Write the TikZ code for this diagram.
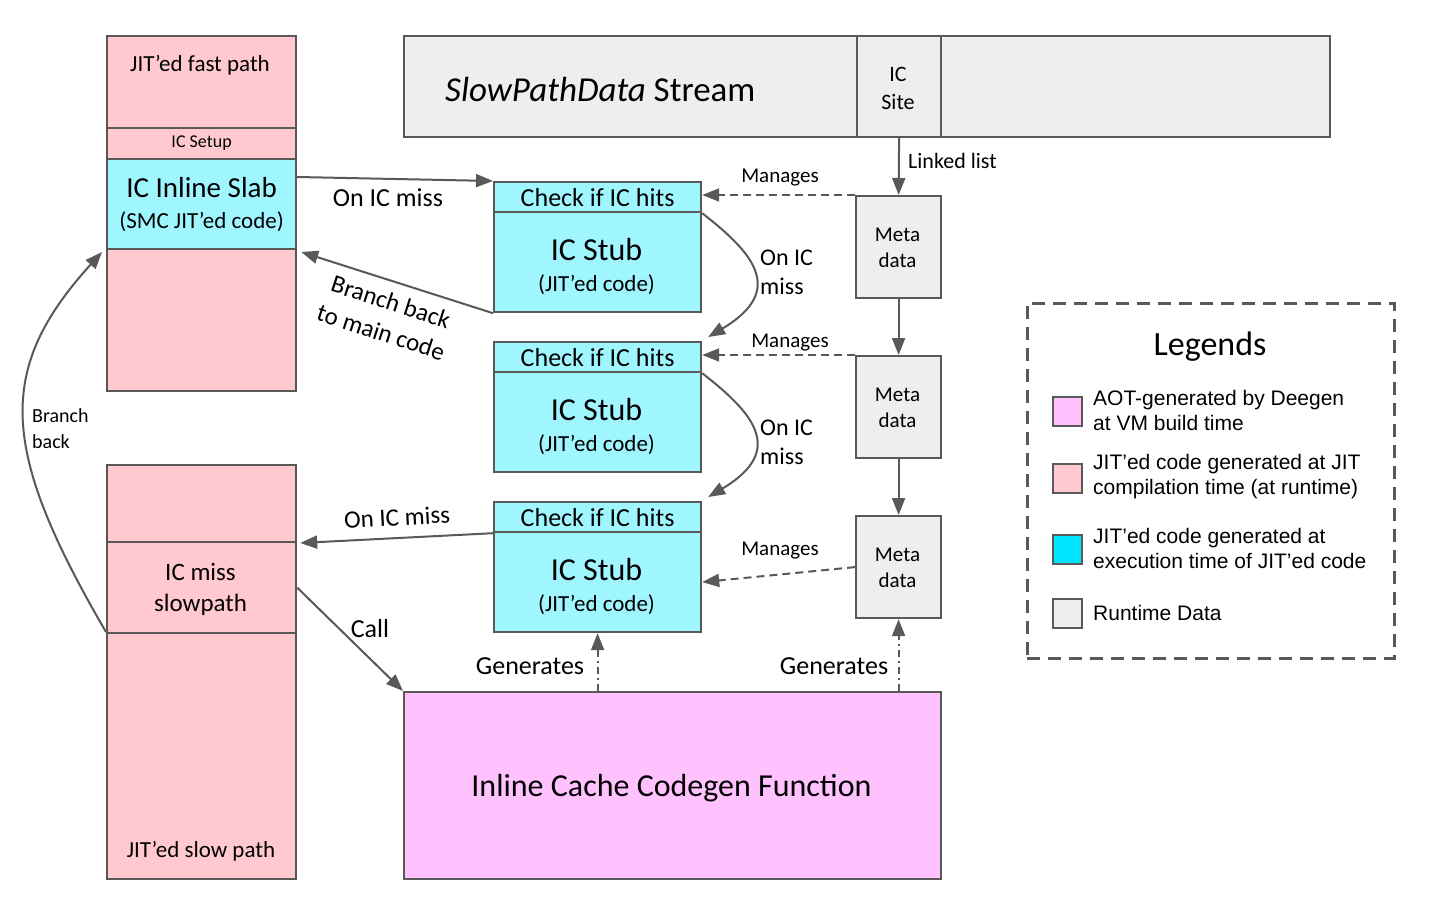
\documentclass[tikz,border=0pt]{standalone}
\usepackage{fontspec}
\setmainfont{Carlito}
\newfontfamily\arialf{Liberation Sans}
\usetikzlibrary{arrows.meta,calc}
\definecolor{lc}{HTML}{595959}
\definecolor{pinkc}{HTML}{FFC9CF}
\definecolor{cyanc}{HTML}{A0F6FF}
\definecolor{grayc}{HTML}{EEEEEE}
\definecolor{magc}{HTML}{FFC2FF}
\definecolor{cyanl}{HTML}{00E5FF}
\newcommand\myfs[2]{\fontsize{#1}{#2}\selectfont}
\begin{document}
\begin{tikzpicture}[x=1pt,y=-1pt,
  box/.style={draw=lc, line width=2.2pt, inner sep=0pt, anchor=north west, align=center},
  arr/.style={draw=lc, line width=2pt, -{Triangle[length=17pt,width=13pt]}},
  darr/.style={arr, dash pattern=on 8pt off 5pt},
  ddarr/.style={arr, dash pattern=on 7pt off 4pt on 2pt off 4pt},
  lab/.style={inner sep=0pt}
]
\useasboundingbox (0,0) rectangle (1435,909);
\fill[white] (0,0) rectangle (1435,909);

% left top column
\node[box, fill=pinkc, minimum width=189pt, minimum height=92pt] (fast) at (106,35) {};
\node[lab, font=\myfs{23}{28}] (fasttxt) at (200,65) {JIT’ed fast path};
\node[box, fill=pinkc, minimum width=189pt, minimum height=31pt, font=\myfs{18}{22}] (setup) at (106,127) {IC Setup};
\node[box, fill=cyanc, minimum width=189pt, minimum height=90pt, font=\myfs{23}{31}] (slab) at (106,158) {{\myfs{29}{31}IC Inline Slab}\\(SMC JIT’ed code)};
\node[box, fill=pinkc, minimum width=189pt, minimum height=142pt] (pinka) at (106,248) {};

% left bottom column
\node[box, fill=pinkc, minimum width=189pt, minimum height=77pt] (slowtop) at (106,464) {};
\node[box, fill=pinkc, minimum width=189pt, minimum height=91pt] (miss) at (106,541) {};
\node[lab, font=\myfs{25}{31}, align=center] (misstxt) at (200.5,589) {IC miss\\slowpath};
\node[box, fill=pinkc, minimum width=189pt, minimum height=246pt] (slowbot) at (106,632) {};
\node[lab, font=\myfs{23}{28}] (slowtxt) at (201,851) {JIT’ed slow path};

% stream
\node[box, fill=grayc, minimum width=926pt, minimum height=101pt] (stream) at (403,35) {};
\node[lab, font=\myfs{35}{40}, anchor=west] (streamtxt) at (445,89) {\textit{SlowPathData} Stream};
\node[box, fill=grayc, minimum width=84pt, minimum height=101pt] (site) at (856,35) {};
\node[lab, font=\myfs{22}{28}, align=center] (sitetxt) at (898,88) {IC\\Site};

% stubs
\foreach \i/\y in {1/181,2/341,3/501}{
  \node[box, fill=cyanc, minimum width=207pt, minimum height=30pt, font=\myfs{26}{30}] (h\i) at (493,\y) {Check if IC hits};
  \node[box, fill=cyanc, minimum width=207pt, minimum height=100pt] (b\i) at (493,\y+30) {};
  \node[lab, align=center, font=\myfs{23}{31}] (bt\i) at (596.5,\y+85) {{\myfs{32}{31}IC Stub}\\(JIT’ed code)};
}

% metadata
\foreach \i/\y in {1/195,2/355,3/515}{
  \node[box, fill=grayc, minimum width=85pt, minimum height=102pt] (m\i) at (855,\y) {};
  \node[lab, align=center, font=\myfs{21}{26}] (mt\i) at (897.5,\y+53) {Meta\\data};
}

% codegen
\node[box, fill=magc, minimum width=537pt, minimum height=187pt] (cg) at (403,691) {};
\node[lab, font=\myfs{32}{36}] (cgt) at (671.5,788) {Inline Cache Codegen Function};

% legend
\node[box, dash pattern=on 13pt off 8pt, line width=2.8pt, minimum width=367pt, minimum height=355pt] (leg) at (1026,302) {};
\node[lab, font=\myfs{34}{40}] (legt) at (1210,347) {Legends};
\foreach \i/\y/\c in {1/396/magc,2/463/pinkc,3/534/cyanl,4/598/grayc}{
  \node[box, line width=2pt, minimum width=29pt, minimum height=29pt, fill=\c] (s\i) at (1052,\y) {};
}
\node[lab, anchor=west, align=left, font=\arialf\myfs{21}{25}] (t1) at (1093,410) {AOT-generated by Deegen\\at VM build time};
\node[lab, anchor=west, align=left, font=\arialf\myfs{21}{25}] (t2) at (1093,477) {JIT’ed code generated at JIT\\compilation time (at runtime)};
\node[lab, anchor=west, align=left, font=\arialf\myfs{21}{25}] (t3) at (1093,548) {JIT’ed code generated at\\execution time of JIT’ed code};
\node[lab, anchor=west, align=left, font=\arialf\myfs{21}{25}] (t4) at (1093,613) {Runtime Data};

% connectors
\draw[arr] ($(slab.north east)+(0,19)$) -- (h1.north west);
\draw[arr] (b1.south west) -- ($(pinka.north east)+(4,4)$);
\draw[arr] (h1.south east) .. controls +(50,39) and +(79,-47) .. ($(h2.north east)+(6,-4)$);
\draw[arr] (h2.south east) .. controls +(50,39) and +(79,-47) .. ($(h3.north east)+(6,-4)$);
\draw[arr] (h3.south west) -- ($(miss.north east)+(3,2)$);
\draw[arr] (miss.east) -- (cg.north west);
\draw[arr] (slowbot.north west) .. controls (0,450) and (-5,370) .. ($(pinka.north west)+(-4,4)$);
\draw[arr] (site.south) -- (m1.north);
\draw[arr] (m1.south) -- (m2.north);
\draw[arr] (m2.south) -- (m3.north);
\draw[darr] (m1.north west) -- (h1.east |- m1.north west);
\draw[darr] (m2.north west) -- (h2.east |- m2.north west);
\draw[darr] (m3.west) -- (b3.east);
\draw[ddarr] (cg.north -| b3.south) -- (b3.south);
\draw[ddarr] (cg.north -| m3.south) -- (m3.south);

% labels
\node[lab, font=\myfs{26}{30}] (l1) at (388,198) {On IC miss};
\node[lab, font=\myfs{25}{32}, rotate=-18, align=center] (l2) at (386,317) {Branch back\\to main code};
\node[lab, font=\myfs{24}{29}, align=left, anchor=west] (l3) at (760,272) {On IC\\miss};
\node[lab, font=\myfs{24}{29}, align=left, anchor=west] (l4) at (760,442) {On IC\\miss};
\node[lab, font=\myfs{25}{30}, rotate=3] (l5) at (397,517) {On IC miss};
\node[lab, font=\myfs{26}{30}] (l6) at (370,629) {Call};
\node[lab, font=\myfs{20}{26}, align=left, anchor=west] (l7) at (32,429) {Branch\\back};
\node[lab, font=\myfs{22}{26}, anchor=west] (l8) at (908,161) {Linked list};
\node[lab, font=\myfs{21}{26}] (l9) at (780,178) {Manages};
\node[lab, font=\myfs{21}{26}] (l10) at (790,343) {Manages};
\node[lab, font=\myfs{21}{26}] (l11) at (780,551) {Manages};
\node[lab, font=\myfs{26}{30}] (l12) at (530,666) {Generates};
\node[lab, font=\myfs{26}{30}] (l13) at (834,666) {Generates};
\end{tikzpicture}
\end{document}
